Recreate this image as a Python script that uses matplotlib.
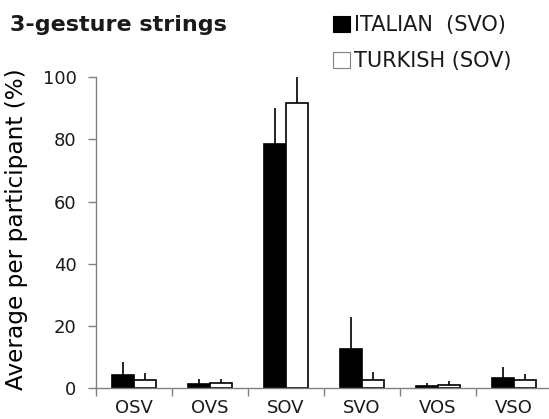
import numpy as np
import matplotlib.pyplot as plt

# orden de palabras y medias por participante
ordenes = ['OSV', 'OVS', 'SOV', 'SVO', 'VOS', 'VSO']
italiano = [4.2, 1.3, 78.5, 12.6, 0.6, 3.2]
italiano_err = [4.4, 1.6, 11.5, 10.4, 1.0, 3.6]
turco = [2.7, 1.6, 91.6, 2.8, 1.2, 2.6]
turco_err = [2.3, 1.3, 8.4, 2.3, 1.1, 1.9]

plt.rcParams['font.family'] = 'DejaVu Sans'
plt.rcParams['text.color'] = '#1a1a1a'

fig = plt.figure(figsize=(5.49, 4.19), dpi=100, facecolor='white')
ax = fig.add_axes([96/549, 30.7/419, 453/549, 311/419])

x = np.arange(len(ordenes))
ancho = 0.29
gris = '#808080'

ax.bar(x - ancho/2, italiano, ancho, color='black', edgecolor='black', lw=1.2,
       label='ITALIAN  (SVO)')
ax.bar(x + ancho/2, turco, ancho, color='white', edgecolor='black', lw=1.2,
       label='TURKISH (SOV)')

# barras de error solo hacia arriba
ax.errorbar(x - ancho/2, italiano, yerr=[np.zeros(6), italiano_err], fmt='none',
            ecolor='black', elinewidth=1.2, capsize=0)
ax.errorbar(x + ancho/2, turco, yerr=[np.zeros(6), turco_err], fmt='none',
            ecolor='black', elinewidth=1.2, capsize=0)

ax.set_xlim(-0.5, 5.46)
ax.set_ylim(0, 100)
ax.set_yticks([0, 20, 40, 60, 80, 100])

ax.set_xticks(np.arange(-0.5, 5.0, 1.0))
ax.set_xticklabels([])
ax.set_xticks(x, minor=True)
ax.set_xticklabels(ordenes, minor=True, fontsize=13)
ax.tick_params(axis='x', which='major', length=6, color=gris, width=1, direction='out')
ax.tick_params(axis='x', which='minor', length=0, pad=8, labelcolor='#1a1a1a')
ax.tick_params(axis='y', length=6, color=gris, width=1, labelsize=13, pad=8,
               labelcolor='#1a1a1a')

for lado in ['top', 'right']:
    ax.spines[lado].set_visible(False)
for lado in ['left', 'bottom']:
    ax.spines[lado].set_color(gris)
    ax.spines[lado].set_linewidth(1)

ax.set_ylabel('Average per participant (%)', fontsize=16.7)
ax.yaxis.set_label_coords(-0.150, 0.513)

fig.text(10/549, 1 - 25/419, '3-gesture strings', fontsize=16, fontweight='bold',
         va='center', ha='left')

leg = ax.legend(loc='upper left', bbox_to_anchor=(325/549, 1 - 7/419),
                bbox_transform=fig.transFigure, frameon=False, fontsize=15,
                handlelength=0.8, handleheight=0.8, handletextpad=0.2,
                labelspacing=0.75, borderaxespad=0)
for h in leg.legend_handles:
    h.set_linewidth(0.8)
leg.legend_handles[1].set_edgecolor(gris)

fig.savefig('out.png', dpi=100, facecolor='white')
